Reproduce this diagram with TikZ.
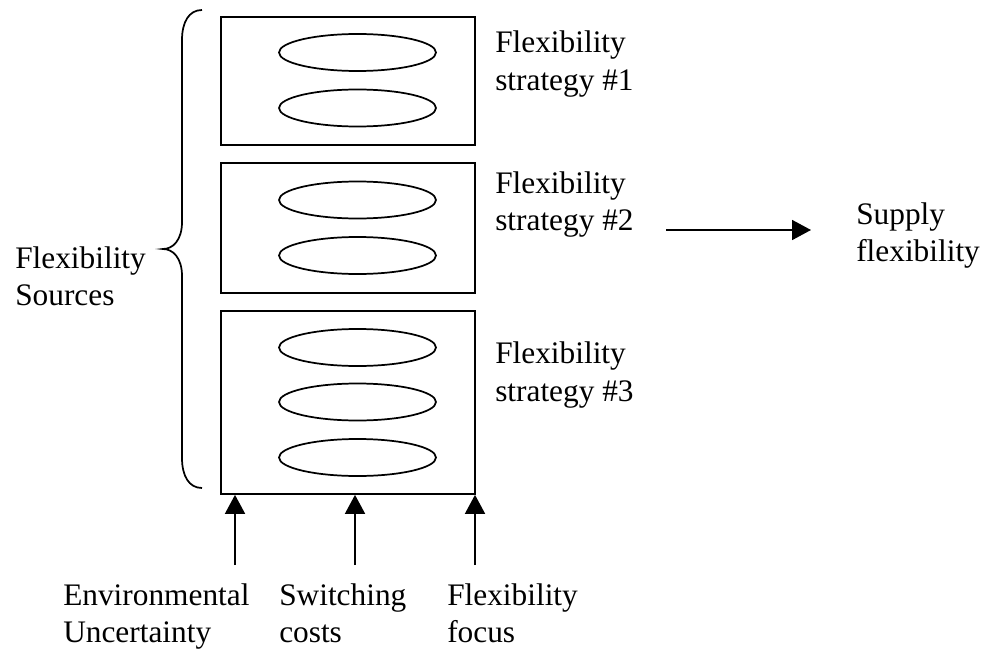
\documentclass[tikz,border=0pt]{standalone}
\usepackage{fontspec}
\setmainfont{Liberation Serif}
\usetikzlibrary{shapes.geometric,arrows.meta}
\begin{document}
\begin{tikzpicture}[x=0.75pt,y=-0.75pt,
  lw/.style={line width=1.3pt},
  boxs/.style={draw,lw,rectangle,inner sep=0pt,minimum width=190.5pt},
  ell/.style={draw,lw,ellipse,inner sep=0pt,minimum width=117.75pt,minimum height=27.75pt},
  lbl/.style={anchor=base west,inner sep=0pt,font=\fontsize{23.5}{28}\selectfont},
  arr/.style={lw,-{Triangle[length=14.25pt,width=15pt]}}]
\useasboundingbox (0,0) rectangle (987,649);
% boxes
\node[boxs,minimum height=96pt] (b1) at (348,81) {};
\node[boxs,minimum height=97.5pt] (b2) at (348,228) {};
\node[boxs,minimum height=137.25pt] (b3) at (348,402.5) {};
% ellipses
\node[ell] (e11) at (357.5,52.5) {};
\node[ell] (e12) at (357.5,108) {};
\node[ell] (e21) at (357.5,200) {};
\node[ell] (e22) at (357.5,255.5) {};
\node[ell] (e31) at (357.5,347.5) {};
\node[ell] (e32) at (357.5,402) {};
\node[ell] (e33) at (357.5,457.5) {};
% strategy labels
\node[lbl] (s1a) at (495,53) {Flexibility};
\node[lbl] (s1b) at (495,91) {strategy \#1};
\node[lbl] (s2a) at (495,193) {Flexibility};
\node[lbl] (s2b) at (495,230) {strategy \#2};
\node[lbl] (s3a) at (495,363) {Flexibility};
\node[lbl] (s3b) at (495,401) {strategy \#3};
% supply flexibility
\node[lbl] (sf1) at (856,224) {Supply};
\node[lbl] (sf2) at (856,261) {flexibility};
\coordinate (hs) at (666,230);
\coordinate (he) at (811,230);
\draw[arr] (hs) -- (he);
% brace
\draw[lw] (202,10) .. controls (189,10) and (182,22) .. (182,40) -- (182,222)
  .. controls (182,240) and (173,249) .. (163,249)
  .. controls (173,249) and (182,258) .. (182,276) -- (182,458)
  .. controls (182,476) and (189,488) .. (202,488);
\node[lbl] (fs1) at (15,268) {Flexibility};
\node[lbl] (fs2) at (15,305) {Sources};
% bottom inputs
\coordinate (a1) at (235,565);
\coordinate (a2) at (355,565);
\coordinate (a3) at (475,565);
\draw[arr] (a1) -- (a1 |- b3.south);
\draw[arr] (a2) -- (a2 |- b3.south);
\draw[arr] (a3) -- (a3 |- b3.south);
\node[lbl] (en1) at (63,605) {Environmental};
\node[lbl] (en2) at (63,642) {Uncertainty};
\node[lbl] (sw1) at (279,605) {Switching};
\node[lbl] (sw2) at (279,642) {costs};
\node[lbl] (ff1) at (447,605) {Flexibility};
\node[lbl] (ff2) at (447,642) {focus};
\end{tikzpicture}
\end{document}
